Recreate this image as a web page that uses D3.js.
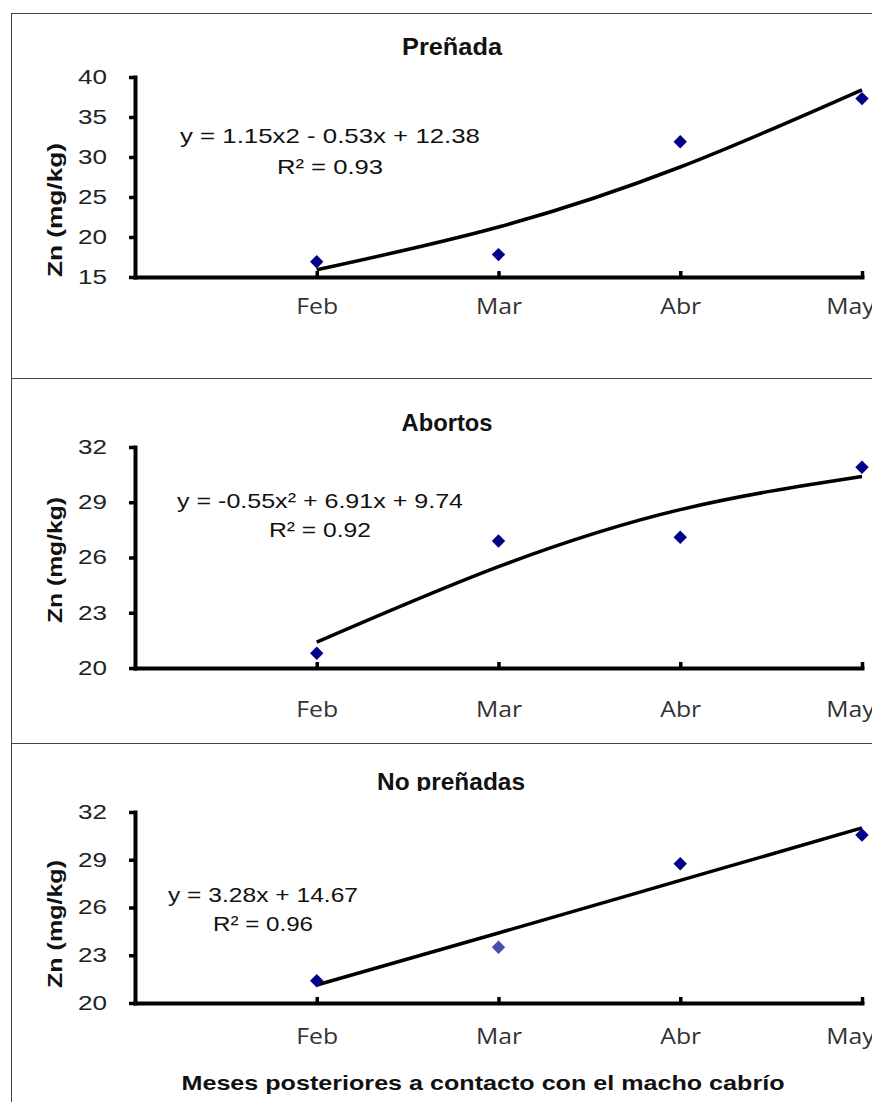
<!DOCTYPE html>
<html>
<head>
<meta charset="utf-8">
<script src="https://cdn.jsdelivr.net/npm/d3@7"></script>
<style>
  html, body { margin: 0; padding: 0; background: #fff; }
  svg { display: block; }
</style>
</head>
<body>
<svg id="chart" width="872" height="1102"></svg>
<script>
// ---------------- DATA ----------------
const months = ["Feb", "Mar", "Abr", "May"];
const titles = ["Preñada", "Abortos", "No preñadas"];

const pregnantValues    = [16.9, 17.8, 31.9, 37.3];
const abortValues       = [20.8, 26.9, 27.1, 30.9];
const nonPregnantValues = [21.4, 23.5, 28.75, 30.55];

const pregnantTrend    = [15.9, 21.25, 28.75, 38.4];
const abortTrend       = [21.4, 25.5, 28.6, 30.4];
const nonPregnantTrend = [21.13, 24.4, 27.7, 31.0];

const pregnantTicks    = [15, 20, 25, 30, 35, 40];
const abortTicks       = [20, 23, 26, 29, 32];
const nonPregnantTicks = [20, 23, 26, 29, 32];

const equations = ["y = 1.15x2 - 0.53x + 12.38", "y = -0.55x² + 6.91x + 9.74", "y = 3.28x + 14.67"];
const rSquared  = ["R² = 0.93", "R² = 0.92", "R² = 0.96"];

const yAxisTitle = "Zn (mg/kg)";
const xAxisTitle = "Meses posteriores a contacto con el macho cabrío";

// ---------------- LAYOUT ----------------
const svg = d3.select("#chart");
svg.append("rect").attr("width", 872).attr("height", 1102).attr("fill", "#fff");

const SANS = "Liberation Sans, Arial, sans-serif";

function stretch(sel, factor) {
  sel.each(function () {
    const w = this.getComputedTextLength();
    d3.select(this).attr("textLength", w * factor).attr("lengthAdjust", "spacingAndGlyphs");
  });
}
function fitTo(sel, width) {
  sel.attr("textLength", width).attr("lengthAdjust", "spacingAndGlyphs");
}

const frameColor = "#444";
svg.append("line").attr("x1", 11.5).attr("x2", 11.5).attr("y1", 13.5).attr("y2", 1102).attr("stroke", frameColor);
[13.5, 378.5, 743.5].forEach(y =>
  svg.append("line").attr("x1", 11).attr("x2", 872).attr("y1", y).attr("y2", y).attr("stroke", frameColor));

const layouts = [
  { top: 77,  bottom: 277,  labelPad: 22, titleY: 55,  titleX: 452, titleW: 100, eqX: 330, eqY: 143, eqW: 300, rY: 174, rW: 106, yTitleY: 210, yTitleW: 134, clip: null },
  { top: 447, bottom: 668,  labelPad: 34, titleY: 431, titleX: 447, titleW: 91,  eqX: 320, eqY: 508, eqW: 286, rY: 537, rW: 102, yTitleY: 560, yTitleW: 126, clip: 432 },
  { top: 812, bottom: 1003, labelPad: 26, titleY: 790, titleX: 451, titleW: 148, eqX: 263, eqY: 902, eqW: 190, rY: 931, rW: 100, yTitleY: 924, yTitleW: 128, clip: 791 }
];
const valueSets = [pregnantValues, abortValues, nonPregnantValues];
const trendSets = [pregnantTrend, abortTrend, nonPregnantTrend];
const tickSets  = [pregnantTicks, abortTicks, nonPregnantTicks];

const x = d3.scaleLinear().domain([0, 4]).range([135, 862]);

const defs = svg.append("defs");

layouts.forEach((L, p) => {
  const ticks = tickSets[p];
  const y = d3.scaleLinear().domain([ticks[0], ticks[ticks.length - 1]]).range([L.bottom, L.top]);
  const g = svg.append("g");

  // title
  let titleG = g;
  if (L.clip) {
    defs.append("clipPath").attr("id", "clip" + p)
      .append("rect").attr("x", 0).attr("y", L.clip - 40).attr("width", 872).attr("height", 40);
    titleG = g.append("g").attr("clip-path", `url(#clip${p})`);
  }
  titleG.append("text")
    .attr("x", L.titleX).attr("y", L.titleY)
    .attr("text-anchor", "middle")
    .attr("font-family", SANS)
    .attr("font-weight", "bold").attr("font-size", 23).attr("fill", "#111")
    .text(titles[p])
    .call(fitTo, L.titleW);

  // y axis
  const yAxis = d3.axisLeft(y).tickValues(ticks).tickSize(6).tickSizeOuter(0).tickPadding(22);
  const yg = g.append("g").attr("transform", `translate(${x(0)},0)`).call(yAxis);
  yg.select(".domain").attr("stroke", "#000").attr("stroke-width", 4).attr("stroke-linecap", "square");
  yg.selectAll(".tick line").attr("stroke", "#000").attr("stroke-width", 3.5);
  yg.selectAll(".tick text")
    .attr("font-family", SANS)
    .attr("font-size", 20).attr("fill", "#222")
    .call(stretch, 1.3);

  // x axis
  const xAxis = d3.axisBottom(x).tickValues([1, 2, 3, 4]).tickFormat((d, i) => months[i])
    .tickSize(-6).tickSizeOuter(0).tickPadding(L.labelPad);
  const xg = g.append("g").attr("transform", `translate(0,${L.bottom})`).call(xAxis);
  xg.select(".domain").attr("stroke", "#000").attr("stroke-width", 4).attr("stroke-linecap", "square");
  xg.selectAll(".tick line").attr("stroke", "#000").attr("stroke-width", 3.5);
  xg.selectAll(".tick text")
    .attr("font-family", "Open Sans, sans-serif")
    .attr("font-size", 21).attr("fill", "#333")
    .call(stretch, 1.18);
  xg.selectAll(".tick text").filter((d, i) => i === 3).attr("dx", -12);

  // y axis title
  g.append("text")
    .attr("transform", `translate(62,${L.yTitleY}) rotate(-90)`)
    .attr("text-anchor", "middle")
    .attr("font-family", SANS)
    .attr("font-weight", "bold").attr("font-size", 21).attr("fill", "#111")
    .text(yAxisTitle)
    .call(fitTo, L.yTitleW);

  // trend line
  const line = d3.line().x((d, i) => x(i + 1)).y(d => y(d)).curve(d3.curveNatural);
  g.append("path").datum(trendSets[p])
    .attr("d", line).attr("fill", "none").attr("stroke", "#000").attr("stroke-width", 3.5);

  // markers
  const sym = d3.symbol().type(d3.symbolSquare).size(90);
  g.selectAll(".pt").data(valueSets[p]).join("path")
    .attr("class", "pt")
    .attr("d", sym)
    .attr("transform", (d, i) => `translate(${x(i + 1)},${y(d)}) rotate(45)`)
    .attr("fill", (d, i) => (p === 2 && i === 1) ? "#4b4bab" : "#000088");

  // equation text
  g.append("text")
    .attr("x", L.eqX).attr("y", L.eqY).attr("text-anchor", "middle")
    .attr("font-family", SANS)
    .attr("font-size", 21).attr("fill", "#111")
    .text(equations[p])
    .call(fitTo, L.eqW);
  g.append("text")
    .attr("x", L.eqX).attr("y", L.rY).attr("text-anchor", "middle")
    .attr("font-family", SANS)
    .attr("font-size", 21).attr("fill", "#111")
    .text(rSquared[p])
    .call(fitTo, L.rW);
});

// x axis title
svg.append("text")
  .attr("x", 483).attr("y", 1090).attr("text-anchor", "middle")
  .attr("font-family", SANS)
  .attr("font-weight", "bold").attr("font-size", 21).attr("fill", "#111")
  .text(xAxisTitle)
  .call(fitTo, 603);
</script>
</body>
</html>
